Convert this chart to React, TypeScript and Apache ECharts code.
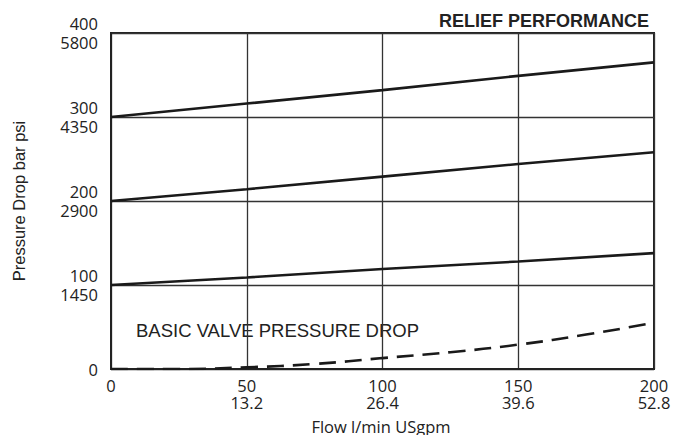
import React, { useEffect, useRef } from "react";
import * as echarts from "echarts";

const flowLpm = [0, 50, 100, 150, 200];
const relief300 = [300, 316, 332, 349, 365];
const relief200 = [200, 214, 229, 244, 258];
const relief100 = [100, 109, 119, 128, 138];
const basicFlow = [0, 25, 50, 75, 100, 125, 150, 175, 200];
const basicDrop = [0, 0, 2, 6, 13, 20, 29, 41, 55];
const yTicksBar = [0, 100, 200, 300, 400];
const yTicksPsi = ["", "1450", "2900", "4350", "5800"];
const xTicksLpm = [0, 50, 100, 150, 200];
const xTicksGpm = ["", "13.2", "26.4", "39.6", "52.8"];

const pairs = (xs: number[], ys: number[]) => xs.map((x, i) => [x, ys[i]]);

export default function App() {
  const ref = useRef<HTMLDivElement>(null);
  useEffect(() => {
    if (!ref.current) return;
    document.body.style.margin = "0";
    document.body.style.overflow = "hidden";
    const chart = echarts.init(ref.current, null, { renderer: "svg" });
    const lineStyle = { color: "#1a1a1a", width: 2.6 };
    chart.setOption({
      animation: false,
      backgroundColor: "#ffffff",
      textStyle: { fontFamily: "Open Sans" },
      grid: {
        left: 111,
        right: 29,
        top: 33,
        bottom: 66,
        containLabel: false,
        outerBoundsMode: "none",
        show: true,
        borderColor: "#222",
        borderWidth: 2,
      },
      title: {
        text: "RELIEF PERFORMANCE",
        right: 29,
        top: 7,
        textStyle: {
          fontFamily: "Liberation Sans",
          fontWeight: "bold",
          fontSize: 18,
          color: "#222",
        },
      },
      xAxis: {
        type: "value",
        min: 0,
        max: 200,
        interval: 50,
        axisLine: { show: true, lineStyle: { color: "#222", width: 2 } },
        axisTick: { show: false },
        splitLine: { show: true, lineStyle: { color: "#333", width: 1.3 } },
        axisLabel: {
          fontFamily: "Open Sans",
          fontSize: 16.5,
          color: "#222",
          margin: 8,
          lineHeight: 17,
          formatter: (v: number) => {
            const i = xTicksLpm.indexOf(v);
            return i > 0 ? `${v}\n${xTicksGpm[i]}` : `${v}`;
          },
        },
      },
      yAxis: {
        type: "value",
        min: 0,
        max: 400,
        interval: 100,
        name: "Pressure Drop bar psi",
        nameLocation: "middle",
        nameGap: 84,
        nameMoveOverlap: false,
        nameTextStyle: { fontFamily: "Liberation Sans", fontSize: 16.5, color: "#222" },
        axisLine: { show: true, lineStyle: { color: "#222", width: 2 } },
        axisTick: { show: false },
        splitLine: { show: true, lineStyle: { color: "#333", width: 1.3 } },
        axisLabel: {
          fontFamily: "Open Sans",
          fontSize: 16.5,
          color: "#222",
          margin: 13,
          lineHeight: 19,
          formatter: (v: number) => {
            const i = yTicksBar.indexOf(v);
            return i > 0 ? `${v}\n${yTicksPsi[i]}` : `${v}`;
          },
        },
      },
      graphic: [
        {
          type: "text",
          left: 136,
          top: 321,
          style: {
            text: "BASIC VALVE PRESSURE DROP",
            fontFamily: "Liberation Sans",
            fontSize: 18.5,
            fill: "#222",
          },
        },
        {
          type: "text",
          x: 381,
          y: 426,
          style: {
            text: "Flow l/min USgpm",
            fontFamily: "Open Sans",
            fontSize: 16.5,
            fill: "#222",
            align: "center",
            verticalAlign: "middle",
          },
        },
      ],
      series: [
        { type: "line", data: pairs(flowLpm, relief300), showSymbol: false, lineStyle },
        { type: "line", data: pairs(flowLpm, relief200), showSymbol: false, lineStyle },
        { type: "line", data: pairs(flowLpm, relief100), showSymbol: false, lineStyle },
        {
          type: "line",
          data: pairs(basicFlow, basicDrop),
          showSymbol: false,
          smooth: true,
          lineStyle: { color: "#1a1a1a", width: 2.6, type: [17, 9] },
        },
      ],
    });
    return () => chart.dispose();
  }, []);
  return (
    <div
      ref={ref}
      style={{ position: "absolute", left: 0, top: 0, width: 683, height: 435 }}
    />
  );
}
